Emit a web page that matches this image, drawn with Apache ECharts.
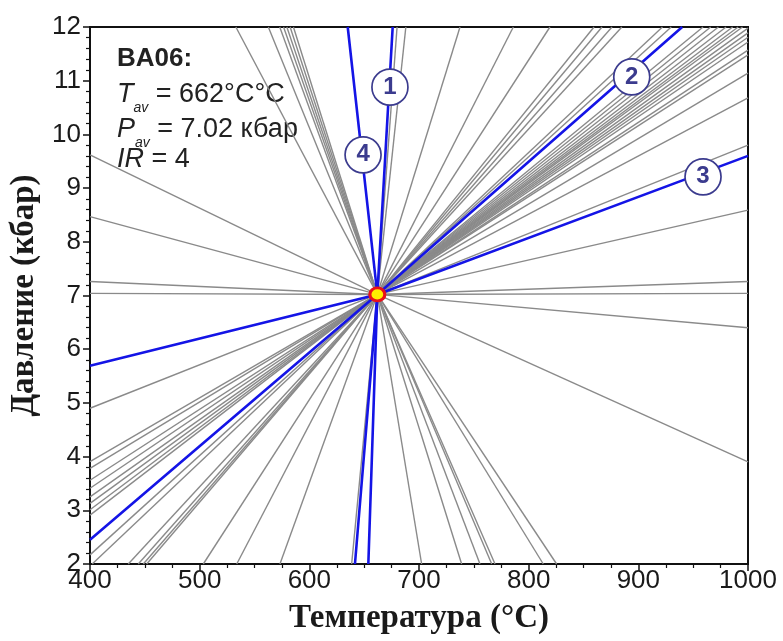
<!DOCTYPE html>
<html>
<head>
<meta charset="utf-8">
<script src="https://cdn.jsdelivr.net/npm/echarts@6/dist/echarts.min.js"></script>
<style>
html,body{margin:0;padding:0;background:#fff;}
#chart{width:783px;height:641px;}
</style>
</head>
<body>
<div id="chart"></div>
<script>
// Axis ranges
const tRange = [400, 1000];
const pRange = [2, 12];
// Average P-T point (intersection)
const center = [662, 7.02];
// Gray reaction lines: edge end points
const grayLeftUpperP = [9.62, 8.47, 7.26, 7.04];          // P where lines meet T=400 (above centre)
const grayTopT = [533, 562.6, 573, 576.5, 579.5, 582.5, 585.5, 680, 688, 737.4, 786, 819.4,
                  859.6, 866.9, 876, 885, 922, 930, 959, 966, 973, 980, 986, 991, 995]; // T at P=12
const grayRightP = [11.98, 11.89, 11.81, 11.72, 11.57, 11.48, 11.14, 10.68, 9.80, 8.59,
                    7.26, 7.04, 6.40, 3.90];               // P at T=1000
const grayLeftLowerP = [4.90, 3.905, 3.78, 3.56, 3.41, 3.25, 3.13, 3.01, 2.91, 2.17]; // P at T=400
const grayBottomT = [402, 434.9, 444, 448.6, 451.7, 503.3, 533.8, 573.2, 638.6,
                     702.4, 738.9, 755.6, 766.3, 769.3, 813.3, 825.5]; // T at P=2
// Blue (numbered) reactions
const blue1 = [[676, 12], [662, 7.02], [653.8, 2]];
const blue2 = [[400, 2.45], [662, 7.02], [940, 12]];
const blue3 = [[400, 5.69], [662, 7.02], [1000, 9.60]];
const blue4 = [[635, 12], [662, 7.02], [641.6, 2]];
// Circled labels
const labelNames = ['1', '2', '3', '4'];
const labelPoints = [[673.5, 10.88], [894, 11.07], [959, 9.21], [649, 9.62]];

const grayCoords = [];
grayLeftUpperP.forEach(p => grayCoords.push({coords: [center, [tRange[0], p]]}));
grayTopT.forEach(t => grayCoords.push({coords: [center, [t, pRange[1]]]}));
grayRightP.forEach(p => grayCoords.push({coords: [center, [tRange[1], p]]}));
grayLeftLowerP.forEach(p => grayCoords.push({coords: [center, [tRange[0], p]]}));
grayBottomT.forEach(t => grayCoords.push({coords: [center, [t, pRange[0]]]}));

const blueCoords = [blue1, blue2, blue3, blue4].map(c => ({coords: c}));

const chart = echarts.init(document.getElementById('chart'), null, {renderer: 'canvas'});
const txt = '#1a1a1a';
const sans = '"Liberation Sans", Arial, sans-serif';
const serif = '"Liberation Serif", "Times New Roman", serif';
const subRich = {
  i: {fontFamily: sans, fontStyle: 'italic', fontSize: 27, fill: '#222', lineHeight: 32, verticalAlign: 'bottom'},
  s: {fontFamily: sans, fontStyle: 'italic', fontSize: 14, fill: '#222', lineHeight: 32, verticalAlign: 'bottom', padding: [0, 0, -7, 0]},
  n: {fontFamily: sans, fontSize: 27, fill: '#222', lineHeight: 32, verticalAlign: 'bottom'}
};

chart.setOption({
  animation: false,
  backgroundColor: '#fff',
  grid: {left: 90, right: 35, top: 27, bottom: 77, show: true, borderColor: '#111', borderWidth: 2, backgroundColor: 'transparent'},
  xAxis: {
    type: 'value', min: tRange[0], max: tRange[1], interval: 100,
    axisLine: {show: true, onZero: false, lineStyle: {color: '#111', width: 2}},
    axisTick: {show: true, inside: false, length: 7, lineStyle: {color: '#111', width: 1.5}},
    minorTick: {show: true, splitNumber: 4, length: 4, lineStyle: {color: '#111', width: 1.2}},
    splitLine: {show: false},
    axisLabel: {fontSize: 26, color: txt, fontFamily: sans, margin: 4, formatter: v => String(v)},
    name: 'Температура (°C)', nameLocation: 'middle', nameGap: 38,
    nameTextStyle: {fontFamily: serif, fontWeight: 'bold', fontSize: 33, color: txt}
  },
  yAxis: {
    type: 'value', min: pRange[0], max: pRange[1], interval: 1,
    axisLine: {show: true, onZero: false, lineStyle: {color: '#111', width: 2}},
    axisTick: {show: true, inside: false, length: 7, lineStyle: {color: '#111', width: 1.5}},
    minorTick: {show: true, splitNumber: 5, length: 4, lineStyle: {color: '#111', width: 1.2}},
    splitLine: {show: false},
    axisLabel: {fontSize: 26, color: txt, fontFamily: sans, margin: 9, formatter: v => String(v)},
    name: 'Давление (кбар)', nameLocation: 'middle', nameGap: 46, nameRotate: 90,
    nameTextStyle: {fontFamily: serif, fontWeight: 'bold', fontSize: 33, color: txt}
  },
  graphic: [
    {type: 'text', left: 117, top: 46, style: {text: 'BA06:', font: 'bold 26px ' + sans, fill: '#222'}},
    {type: 'text', left: 117, top: 81, style: {text: '{i|T}{s|av}{n| = 662°C°C}', rich: subRich}},
    {type: 'text', left: 117, top: 116, style: {text: '{i|P}{s|av}{n| = 7.02 кбар}', rich: subRich}},
    {type: 'text', left: 117, top: 146, style: {
      text: '{i|IR}{n| = 4}',
      rich: {
        i: {fontFamily: sans, fontStyle: 'italic', fontSize: 27, fill: '#222'},
        n: {fontFamily: sans, fontSize: 27, fill: '#222'}
      }}}
  ],
  series: [
    {type: 'lines', coordinateSystem: 'cartesian2d', polyline: false, silent: true, z: 2,
     lineStyle: {color: '#8a8a8a', width: 1.4, opacity: 1}, data: grayCoords},
    {type: 'lines', coordinateSystem: 'cartesian2d', polyline: true, silent: true, z: 3,
     lineStyle: {color: '#1414e6', width: 2.6, opacity: 1}, data: blueCoords},
    {type: 'scatter', z: 4, silent: true, symbol: 'circle', symbolSize: 36,
     itemStyle: {color: '#fff', borderColor: '#3b3b8e', borderWidth: 1.7, opacity: 1},
     label: {show: true, position: 'inside', formatter: p => labelNames[p.dataIndex],
             fontFamily: sans, fontWeight: 'bold', fontSize: 24, color: '#3b3b8e'},
     data: labelPoints},
    {type: 'scatter', z: 5, silent: true, symbol: 'circle', symbolSize: [15, 13],
     itemStyle: {color: '#ffee00', borderColor: '#e8101a', borderWidth: 3, opacity: 1},
     data: [center]}
  ]
});
</script>
</body>
</html>
